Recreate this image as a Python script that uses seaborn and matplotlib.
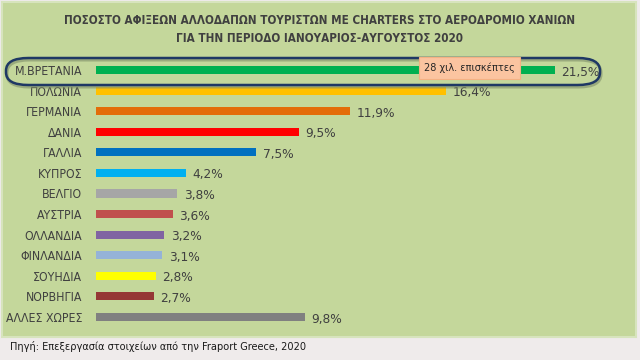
import matplotlib
matplotlib.use('Agg')
import matplotlib.pyplot as plt
from matplotlib.patches import Rectangle, FancyBboxPatch
from matplotlib import font_manager
import seaborn as sns
import pandas as pd

countries = ['Μ.ΒΡΕΤΑΝΙΑ', 'ΠΟΛΩΝΙΑ', 'ΓΕΡΜΑΝΙΑ', 'ΔΑΝΙΑ', 'ΓΑΛΛΙΑ', 'ΚΥΠΡΟΣ', 'ΒΕΛΓΙΟ',
             'ΑΥΣΤΡΙΑ', 'ΟΛΛΑΝΔΙΑ', 'ΦΙΝΛΑΝΔΙΑ', 'ΣΟΥΗΔΙΑ', 'ΝΟΡΒΗΓΙΑ', 'ΑΛΛΕΣ ΧΩΡΕΣ']
share = [21.5, 16.4, 11.9, 9.5, 7.5, 4.2, 3.8, 3.6, 3.2, 3.1, 2.8, 2.7, 9.8]
bar_colors = ['#00b050', '#ffc000', '#e36c09', '#ff0000', '#0070c0', '#00b0f0', '#a6a6a6',
              '#c0504d', '#8064a2', '#95b3d7', '#ffff00', '#953735', '#808080']

df = pd.DataFrame({'country': countries, 'share': share})

sns.set_style('white')
plt.rcParams['font.family'] = ['DejaVu Sans']
# use condensed DejaVu if it is there, otherwise shrink the text a bit
cond = any(f.name == 'DejaVu Sans' and str(f.stretch) in ('condensed', 'semi-condensed')
           for f in font_manager.fontManager.ttflist)
if cond:
    plt.rcParams['font.stretch'] = 'condensed'
k = 1.0 if cond else 0.84

fig = plt.figure(figsize=(6.4, 3.6), dpi=100)
fig.patch.set_facecolor('#efebeb')
# green panel
fig.patches.append(Rectangle((2/640, 1-337/360), 634/640, 335/360, transform=fig.transFigure,
                             facecolor='#c4d79b', edgecolor='#d7e4bd', lw=1.5, zorder=-2))

ax = fig.add_axes([0.15, 0.091, 0.834, 0.743])
ax.set_zorder(2)
ax.patch.set_alpha(0)
sns.barplot(data=df, x='share', y='country', hue='country', palette=bar_colors,
            legend=False, width=0.4, ax=ax, saturation=1, linewidth=0)
ax.set_xlim(0, 25)
ax.set_ylim(12.5, -0.5)
ax.set_xlabel('')
ax.set_ylabel('')
ax.set_xticks([])
ax.tick_params(axis='y', length=0, pad=10, labelsize=8.8*k, labelcolor='#404040')
for s in ax.spines.values():
    s.set_visible(False)

for i, v in enumerate(share):
    ax.text(v + 0.3, i + 0.1, f'{v:.1f}%'.replace('.', ','), va='center', ha='left',
            fontsize=9.7*k, color='#404040')

# rounded highlight around first row (with a soft shadow)
ax.add_patch(FancyBboxPatch((7/640, 1-87/360), 594/640, 27/360, transform=fig.transFigure,
                            boxstyle='round,pad=0,rounding_size=0.035', facecolor='none',
                            edgecolor='#7f8f6a', lw=2.2, alpha=0.6, zorder=4, clip_on=False))
ax.add_patch(FancyBboxPatch((6/640, 1-85/360), 594/640, 27/360, transform=fig.transFigure,
                            boxstyle='round,pad=0,rounding_size=0.035', facecolor='none',
                            edgecolor='#1f3864', lw=1.8, zorder=5, clip_on=False))
ax.text(17.5, -0.1, '28 χιλ. επισκέπτες', ha='center', va='center', fontsize=7.8*k, color='#262626',
        bbox=dict(boxstyle='square,pad=0.5', facecolor='#fbc4a0', edgecolor='#f4b183', lw=0.8),
        zorder=6)

fig.text(0.5, 1-20/360, 'ΠΟΣΟΣΤΟ ΑΦΙΞΕΩΝ ΑΛΛΟΔΑΠΩΝ ΤΟΥΡΙΣΤΩΝ ΜΕ CHARTERS ΣΤΟ ΑΕΡΟΔΡΟΜΙΟ ΧΑΝΙΩΝ',
         ha='center', va='center', fontsize=8.4*k, fontweight='bold', color='#404040')
fig.text(0.5, 1-38/360, 'ΓΙΑ ΤΗΝ ΠΕΡΙΟΔΟ ΙΑΝΟΥΑΡΙΟΣ-ΑΥΓΟΥΣΤΟΣ 2020',
         ha='center', va='center', fontsize=8.4*k, fontweight='bold', color='#404040')

fig.text(10/640, 1-347/360, 'Πηγή: Επεξεργασία στοιχείων από την Fraport Greece, 2020',
         ha='left', va='center', fontsize=7.8*k, color='#1a1a1a')

fig.savefig('out.png', dpi=100, facecolor=fig.get_facecolor())
